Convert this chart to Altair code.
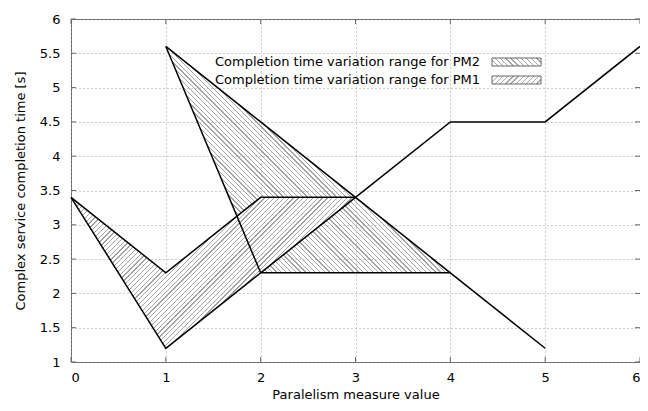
import math
import altair as alt
import pandas as pd

# ---- data ----
x_ticks = [0, 1, 2, 3, 4, 5, 6]
y_ticks = [1, 1.5, 2, 2.5, 3, 3.5, 4, 4.5, 5, 5.5, 6]

lineA_x = [0, 1, 2, 3]
lineA_y = [3.4, 2.3, 3.4, 3.4]
lineB_x = [0, 1, 2, 3, 4, 5, 6]
lineB_y = [3.4, 1.2, 2.3, 3.4, 4.5, 4.5, 5.6]
lineC_x = [1, 2, 3, 4, 5]
lineC_y = [5.6, 4.5, 3.4, 2.3, 1.2]
lineD_x = [1, 2, 3, 4]
lineD_y = [5.6, 2.3, 2.3, 2.3]

# filled ranges (upper / lower bounds)
pm1_x = [0, 1, 2, 3]
pm1_upper = [3.4, 2.3, 3.4, 3.4]
pm1_lower = [3.4, 1.2, 2.3, 3.4]
pm2_x = [1, 2, 3, 4]
pm2_upper = [5.6, 4.5, 3.4, 2.3]
pm2_lower = [5.6, 2.3, 2.3, 2.3]

legend_labels = ["Completion time variation range for PM2",
                 "Completion time variation range for PM1"]

W, H = 569, 343
FONT = "DejaVu Sans"
FS = 13
BORDER = "#666666"


def hatch(w, h, direction, period=3.4, lw=0.9, color="#a3a3a3", bg="white"):
    r = h / w
    s = (1 + r) / (1 + r * r)
    D = (w + h) / math.sqrt(2)
    n = max(1, int(D / period))
    f = lw / D
    stops = []
    for i in range(n):
        a = i / n
        b = (i + 1) / n
        stops += [
            alt.GradientStop(offset=a, color=color),
            alt.GradientStop(offset=a + f, color=color),
            alt.GradientStop(offset=a + f, color=bg),
            alt.GradientStop(offset=b, color=bg),
        ]
    if direction == "/":
        x1, y1, x2, y2 = 0, 0, s, s * r
    else:
        x1, y1, x2, y2 = 0, 1, s, 1 - s * r
    return alt.LinearGradient(gradient="linear", stops=stops,
                              x1=x1, y1=y1, x2=x2, y2=y2)


xscale = alt.Scale(domain=[0, 6], nice=False, zero=False)
yscale = alt.Scale(domain=[1, 6], nice=False, zero=False)
xaxis = alt.Axis(values=x_ticks, title="Paralelism measure value", format="d")
yaxis = alt.Axis(values=y_ticks, title="Complex service completion time [s]",
                 format="~g")


def X(f):
    return alt.X(f, scale=xscale, axis=xaxis)


def Y(f):
    return alt.Y(f, scale=yscale, axis=yaxis)


px_x = W / 6.0
px_y = H / 5.0

pm1_df = pd.DataFrame({"x": pm1_x, "lo": pm1_lower, "hi": pm1_upper})
pm2_df = pd.DataFrame({"x": pm2_x, "lo": pm2_lower, "hi": pm2_upper})

pm1_w = (max(pm1_x) - min(pm1_x)) * px_x
pm1_h = (max(pm1_upper + pm1_lower) - min(pm1_upper + pm1_lower)) * px_y
pm2_w = (max(pm2_x) - min(pm2_x)) * px_x
pm2_h = (max(pm2_upper + pm2_lower) - min(pm2_upper + pm2_lower)) * px_y

area2 = alt.Chart(pm2_df).mark_area(
    fill=hatch(pm2_w, pm2_h, "\\", bg="rgba(255,255,255,0)")
).encode(x=X("x:Q"), y=Y("lo:Q"), y2="hi:Q")

area1 = alt.Chart(pm1_df).mark_area(
    fill=hatch(pm1_w, pm1_h, "/")
).encode(x=X("x:Q"), y=Y("lo:Q"), y2="hi:Q")

lines_df = pd.concat([
    pd.DataFrame({"x": lineA_x, "y": lineA_y, "s": "A"}),
    pd.DataFrame({"x": lineB_x, "y": lineB_y, "s": "B"}),
    pd.DataFrame({"x": lineC_x, "y": lineC_y, "s": "C"}),
    pd.DataFrame({"x": lineD_x, "y": lineD_y, "s": "D"}),
], ignore_index=True)

lines = alt.Chart(lines_df).mark_line(
    color="black", strokeWidth=1.5, strokeJoin="miter"
).encode(x=X("x:Q"), y=Y("y:Q"), detail="s:N", order="x:Q")

# inward ticks on all four sides
xt_df = pd.DataFrame({"x": x_ticks})
yt_df = pd.DataFrame({"y": y_ticks})
TL = 5
tick_style = dict(color=BORDER, strokeWidth=1)
xt_bottom = alt.Chart(xt_df).mark_rule(**tick_style).encode(
    x=X("x:Q"), y=alt.value(H - TL), y2=alt.value(H))
xt_top = alt.Chart(xt_df).mark_rule(**tick_style).encode(
    x=X("x:Q"), y=alt.value(0), y2=alt.value(TL))
yt_left = alt.Chart(yt_df).mark_rule(**tick_style).encode(
    y=Y("y:Q"), x=alt.value(0), x2=alt.value(TL))
yt_right = alt.Chart(yt_df).mark_rule(**tick_style).encode(
    y=Y("y:Q"), x=alt.value(W - TL), x2=alt.value(W))

# legend (key box positions in pixels)
one = pd.DataFrame({"k": [0]})
leg_text_x = 409
leg_box_x, leg_box_x2 = 421, 470
leg_rows = [(43, 39, 47), (61, 57, 65)]
leg_fills = [hatch(49, 8, "\\"), hatch(49, 8, "/")]
legend_layers = []
for (ty, by1, by2), lab, fl in zip(leg_rows, legend_labels, leg_fills):
    legend_layers.append(
        alt.Chart(one).mark_text(align="right", baseline="middle", font=FONT,
                                 fontSize=FS, color="black").encode(
            x=alt.value(leg_text_x), y=alt.value(ty), text=alt.value(lab)))
    legend_layers.append(
        alt.Chart(one).mark_rect(fill=fl, stroke=BORDER, strokeWidth=1).encode(
            x=alt.value(leg_box_x), x2=alt.value(leg_box_x2),
            y=alt.value(by1), y2=alt.value(by2)))

chart = alt.layer(
    area2, area1, lines, xt_bottom, xt_top, yt_left, yt_right, *legend_layers
).properties(
    width=W, height=H,
    autosize="none",
    padding={"left": 63, "top": 11, "right": 0, "bottom": 38},
    background="white",
).configure_view(
    stroke=BORDER, strokeWidth=1
).configure_axis(
    grid=True, gridColor="#9a9a9a", gridDash=[1, 3], gridWidth=1,
    domain=False, ticks=False, zindex=1,
    labelFont=FONT, labelFontSize=FS, labelColor="black",
    titleFont=FONT, titleFontSize=FS, titleFontWeight="normal",
    titleColor="black",
).configure_axisX(
    labelPadding=9, titlePadding=4,
).configure_axisY(
    labelPadding=11, titlePadding=12,
)

chart.save("out.html", embed_options={"renderer": "svg", "actions": False})
